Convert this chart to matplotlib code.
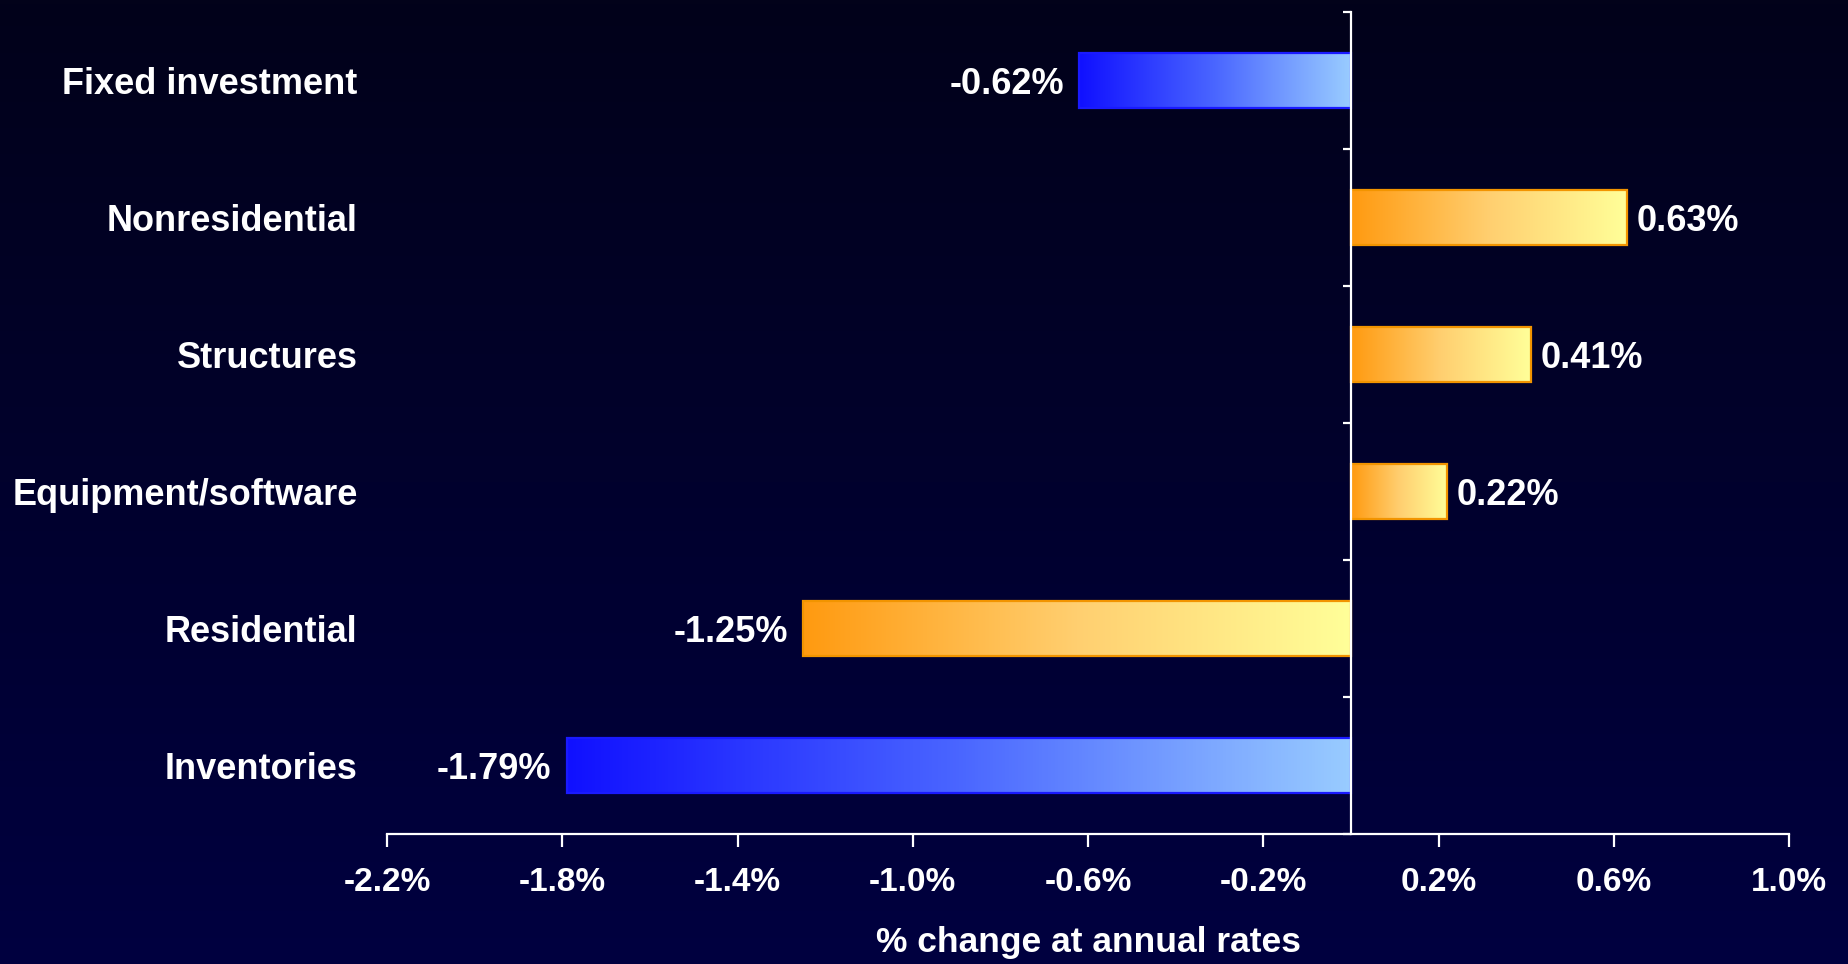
import numpy as np
import matplotlib
matplotlib.use('Agg')
import matplotlib.pyplot as plt
from matplotlib.colors import LinearSegmentedColormap

categories = ['Fixed investment', 'Nonresidential', 'Structures',
              'Equipment/software', 'Residential', 'Inventories']
values = [-0.62, 0.63, 0.41, 0.22, -1.25, -1.79]
kinds = ['blue', 'orange', 'orange', 'orange', 'orange', 'blue']
xticks = [-2.2, -1.8, -1.4, -1.0, -0.6, -0.2, 0.2, 0.6, 1.0]

plt.rcParams['font.family'] = ['Liberation Sans', 'DejaVu Sans']
plt.rcParams['font.weight'] = 'bold'

fills = {
    'blue': LinearSegmentedColormap.from_list('b', ['#1010ff', '#4a66ff', '#99ccff']),
    'orange': LinearSegmentedColormap.from_list('o', ['#ff9a10', '#ffcf70', '#ffff99']),
}
edges = {'blue': '#1a1aff', 'orange': '#f29400'}

fig = plt.figure(figsize=(18.49, 9.64), dpi=100)

# background gradient: dark at top, navy at bottom
bg = fig.add_axes([0, 0, 1, 1], zorder=-1)
bgmap = LinearSegmentedColormap.from_list('bg', ['#000040', '#02021a'])
bg.imshow(np.linspace(0, 1, 256).reshape(-1, 1), aspect='auto', cmap=bgmap,
          extent=[0, 1, 0, 1], origin='lower')
bg.axis('off')

ax = fig.add_axes([0.2093, 0.1349, 0.7583, 0.8527])
ax.set_facecolor('none')

ypos = np.arange(len(categories))[::-1]
bars = ax.barh(ypos, values, height=0.4, facecolor='none', zorder=3)
grad = np.linspace(0, 1, 256).reshape(1, -1)
for b, k, v, y, name in zip(bars, kinds, values, ypos, categories):
    b.set_edgecolor(edges[k])
    b.set_linewidth(1.6)
    x0, w = b.get_x(), b.get_width()
    x1 = x0 + w
    y0, h = b.get_y(), b.get_height()
    im = ax.imshow(grad, cmap=fills[k], aspect='auto', zorder=2,
                   extent=[min(x0, x1), max(x0, x1), y0, y0 + h])
    im.set_clip_path(b)
    label = f'{v:.2f}%'
    if v < 0:
        ax.annotate(label, (v, y), xytext=(-11, 0), textcoords='offset points',
                    ha='right', va='center_baseline', color='white', fontsize=26,
                    fontweight='bold')
    else:
        ax.annotate(label, (v, y), xytext=(7, 0), textcoords='offset points',
                    ha='left', va='center_baseline', color='white', fontsize=26,
                    fontweight='bold')
    ax.text(-0.021, y, name, transform=ax.get_yaxis_transform(), ha='right',
            va='center_baseline', color='white', fontsize=26, fontweight='bold')

ax.set_xlim(-2.2, 1.0)
ax.set_ylim(-0.5, len(categories) - 0.5)
ax.set_xticks(xticks)
ax.set_xticklabels([f'{t:.1f}%' for t in xticks])
ax.set_yticks(np.arange(-0.5, len(categories), 1.0))
ax.set_yticklabels([])

for s in ['top', 'right']:
    ax.spines[s].set_visible(False)
ax.spines['left'].set_position(('data', 0))
ax.spines['left'].set_color('white')
ax.spines['left'].set_linewidth(1.6)
ax.spines['left'].set_zorder(4)
ax.spines['bottom'].set_color('white')
ax.spines['bottom'].set_linewidth(1.6)

ax.tick_params(axis='x', colors='white', length=9, width=1.6, labelsize=24, pad=15)
ax.tick_params(axis='y', colors='white', length=6, width=1.6, direction='out')
for t in ax.get_xticklabels():
    t.set_fontweight('bold')

ax.set_xlabel('% change at annual rates', color='white', fontsize=25.5,
              fontweight='bold', labelpad=20)

fig.savefig('out.png', dpi=100)
